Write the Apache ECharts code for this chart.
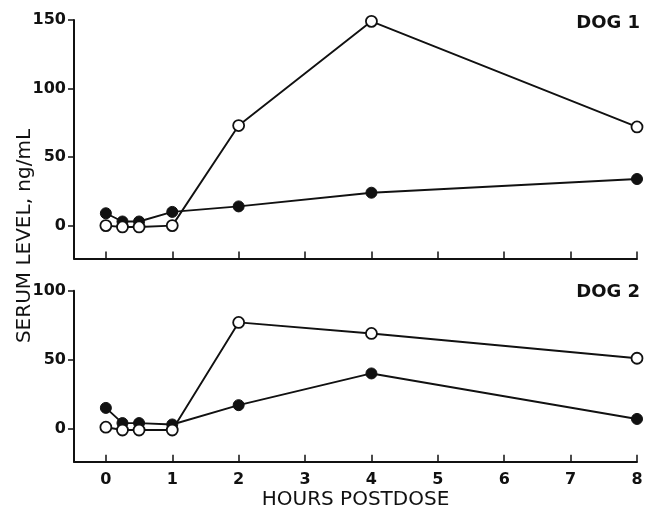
<!DOCTYPE html>
<html>
<head>
<meta charset="utf-8">
<script src="https://cdn.jsdelivr.net/npm/echarts@6/dist/echarts.min.js"></script>
<style>html,body{margin:0;padding:0;background:#fff}#c{width:646px;height:508px}</style>
</head>
<body>
<div id="c"></div>
<script>
var hours = [0, 0.25, 0.5, 1, 2, 4, 8];
var xTicks = [0, 1, 2, 3, 4, 5, 6, 7, 8];
var dog1Filled = [9, 3, 3, 10, 14, 24, 34];
var dog1Open = [0, -1, -1, 0, 73, 149, 72];
var dog2Filled = [15, 4, 4, 3, 17, 40, 7];
var dog2Open = [1, -1, -1, -1, 77, 69, 51];
var yTicks1 = [0, 50, 100, 150];
var yTicks2 = [0, 50, 100];
var panelLabels = ['DOG 1', 'DOG 2'];
var xTitle = 'HOURS POSTDOSE';
var yTitle = 'SERUM LEVEL, ng/mL';

function pairs(xs, ys) { return xs.map(function (x, i) { return [x, ys[i]]; }); }

var INK = '#111';
var FONT = '"DejaVu Sans", sans-serif';

function xAxis(idx, showLabels) {
  return {
    type: 'value', gridIndex: idx, min: -0.48, max: 8,
    axisLine: { show: true, onZero: false, lineStyle: { color: INK, width: 2 } },
    axisTick: { show: true, inside: true, length: 7, customValues: xTicks, lineStyle: { color: INK, width: 1.5 } },
    axisLabel: { show: showLabels, customValues: xTicks, margin: 10, color: INK, fontFamily: FONT, fontWeight: 'bold', fontSize: 16 },
    splitLine: { show: false },
    name: showLabels ? xTitle : '', nameLocation: 'middle', nameGap: 28,
    nameTextStyle: { color: INK, fontFamily: FONT, fontSize: 20 }
  };
}
function yAxis(idx, max, ticks) {
  return {
    type: 'value', gridIndex: idx, min: -24, max: max,
    axisLine: { show: true, onZero: false, lineStyle: { color: INK, width: 2 } },
    axisTick: { show: true, inside: false, length: 6, customValues: ticks, lineStyle: { color: INK, width: 1.5 } },
    axisLabel: { customValues: ticks, margin: 8, color: INK, fontFamily: FONT, fontWeight: 'bold', fontSize: 16 },
    splitLine: { show: false }
  };
}
function series(idx, data, open) {
  return {
    type: 'line', xAxisIndex: idx, yAxisIndex: idx, data: data,
    symbol: 'circle', symbolSize: 11, showSymbol: true,
    lineStyle: { color: INK, width: 1.9 },
    itemStyle: { color: open ? '#fff' : INK, borderColor: INK, borderWidth: open ? 1.8 : 1 },
    z: open ? 4 : 3, animation: false, silent: true
  };
}

var chart = echarts.init(document.getElementById('c'), null, { renderer: 'canvas' });
chart.setOption({
  backgroundColor: '#fff',
  animation: false,
  grid: [
    { left: 74, right: 9, top: 20, height: 238.5, containLabel: false, outerBoundsMode: 'none' },
    { left: 74, right: 9, top: 290.7, height: 171, containLabel: false, outerBoundsMode: 'none' }
  ],
  xAxis: [xAxis(0, false), xAxis(1, true)],
  yAxis: [yAxis(0, 150, yTicks1), yAxis(1, 100, yTicks2)],
  series: [
    series(0, pairs(hours, dog1Filled), false),
    series(0, pairs(hours, dog1Open), true),
    series(1, pairs(hours, dog2Filled), false),
    series(1, pairs(hours, dog2Open), true)
  ],
  graphic: [
    { type: 'text', x: 640, y: 23, style: { text: panelLabels[0], fill: INK, font: 'bold 18px "DejaVu Sans", sans-serif', textAlign: 'right', textVerticalAlign: 'middle' } },
    { type: 'text', x: 640, y: 292, style: { text: panelLabels[1], fill: INK, font: 'bold 18px "DejaVu Sans", sans-serif', textAlign: 'right', textVerticalAlign: 'middle' } },
    { type: 'text', x: 25, y: 236, rotation: Math.PI / 2, style: { text: yTitle, fill: INK, font: '20px "DejaVu Sans", sans-serif', textAlign: 'center', textVerticalAlign: 'middle' } }
  ]
});
</script>
</body>
</html>
